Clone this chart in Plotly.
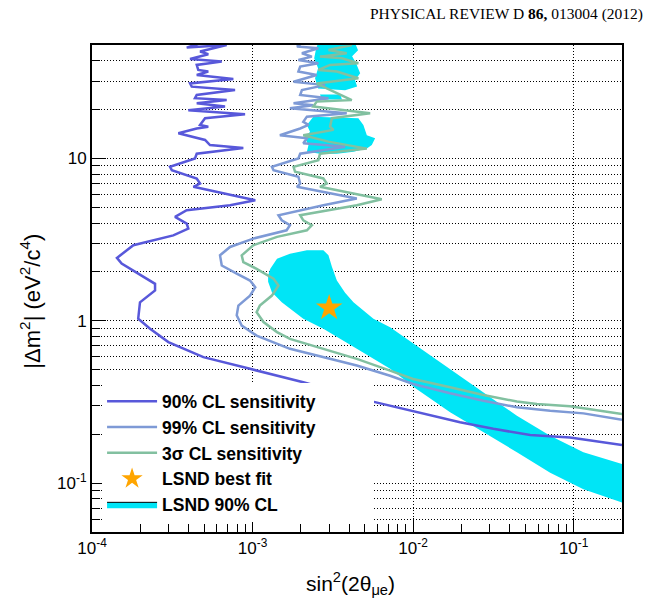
import plotly.graph_objects as go

# ---------------- data ----------------
# 90% CL sensitivity  (sin^2 2theta, dm^2)
s90_x = [4.94e-4, 3.89e-4, 6.90e-4, 4.71e-4, 5.30e-4, 4.08e-4, 6.43e-4, 4.49e-4, 4.59e-4, 5.30e-4,
         4.49e-4, 7.59e-4, 4.08e-4, 4.18e-4, 7.78e-4, 4.49e-4, 4.38e-4, 6.90e-4, 4.49e-4, 6.74e-4,
         3.98e-4, 8.98e-4, 5.06e-4, 4.71e-4, 5.30e-4, 4.49e-4, 3.45e-4, 5.06e-4, 5.43e-4, 8.76e-4,
         4.49e-4, 4.38e-4, 3.06e-4, 3.14e-4, 4.49e-4, 4.71e-4, 4.28e-4, 1.04e-3, 7.24e-4, 3.89e-4,
         3.29e-4, 3.89e-4, 3.98e-4, 3.21e-4, 1.81e-4, 1.43e-4, 1.53e-4, 2.04e-4, 2.47e-4, 2.47e-4,
         1.99e-4, 1.94e-4, 2.30e-4, 2.99e-4, 4.94e-4, 9.64e-4, 2.07e-3, 5.53e-3, 1.00e-2, 1.96e-2,
         3.16e-2, 5.36e-2, 9.50e-2, 0.200]
s90_y = [52.0, 48.2, 50.0, 45.6, 43.9, 41.0, 39.5, 37.7, 35.1, 34.3,
         32.7, 30.9, 29.0, 27.7, 26.4, 24.6, 23.5, 22.9, 21.9, 20.9,
         19.8, 18.7, 17.7, 16.1, 15.7, 15.3, 14.3, 13.0, 12.1, 11.6,
         10.7, 10.0, 8.89, 8.47, 7.53, 7.01, 6.69, 5.53, 5.15, 4.80,
         4.37, 3.97, 3.70, 3.36, 2.92, 2.44, 2.25, 1.90, 1.69, 1.54,
         1.30, 1.03, 0.893, 0.739, 0.597, 0.506, 0.418, 0.319, 0.277, 0.237,
         0.216, 0.198, 0.191, 0.172]

# 99% CL sensitivity
s99_x = [2.07e-3, 1.89e-3, 2.57e-3, 2.03e-3, 2.34e-3, 1.93e-3, 2.57e-3, 1.98e-3, 1.93e-3, 2.51e-3,
         1.80e-3, 2.83e-3, 2.03e-3, 1.98e-3, 2.97e-3, 1.80e-3, 2.39e-3, 1.71e-3, 3.86e-3, 2.18e-3,
         2.07e-3, 2.23e-3, 1.98e-3, 1.48e-3, 2.18e-3, 2.07e-3, 3.77e-3, 1.98e-3, 1.93e-3, 1.32e-3,
         1.35e-3, 1.93e-3, 1.98e-3, 1.89e-3, 4.46e-3, 2.76e-3, 1.45e-3, 1.52e-3, 1.71e-3, 1.63e-3,
         1.01e-3, 7.24e-4, 6.27e-4, 6.43e-4, 7.97e-4, 9.64e-4, 1.04e-3, 9.64e-4, 8.16e-4, 7.97e-4,
         8.56e-4, 1.06e-3, 1.71e-3, 2.76e-3, 4.46e-3, 7.19e-3, 1.00e-2, 1.70e-2, 2.74e-2, 4.43e-2,
         7.14e-2, 0.115, 0.200]
s99_y = [52.0, 48.9, 47.7, 44.5, 42.4, 40.4, 38.6, 36.8, 34.3, 32.7,
         29.7, 28.3, 26.4, 24.6, 23.5, 21.9, 21.3, 20.4, 19.0, 18.1,
         16.8, 16.1, 15.3, 13.9, 13.3, 12.4, 11.8, 10.7, 10.0, 8.89,
         8.47, 7.71, 7.01, 6.69, 5.66, 5.15, 4.47, 4.16, 3.88, 3.61,
         3.21, 2.85, 2.53, 2.19, 1.95, 1.77, 1.61, 1.43, 1.24, 1.08,
         0.935, 0.811, 0.672, 0.597, 0.530, 0.459, 0.408, 0.358, 0.322, 0.293,
         0.279, 0.269, 0.246]

# 3 sigma CL sensitivity
s3s_x = [2.97e-3, 4.15e-3, 2.97e-3, 3.86e-3, 2.63e-3, 3.60e-3, 4.56e-3, 3.04e-3, 2.57e-3, 3.35e-3,
         4.56e-3, 2.51e-3, 2.90e-3, 4.15e-3, 2.51e-3, 2.39e-3, 5.40e-3, 3.12e-3, 3.04e-3, 3.19e-3,
         2.07e-3, 2.97e-3, 5.15e-3, 2.63e-3, 2.57e-3, 1.80e-3, 1.84e-3, 2.76e-3, 2.90e-3, 2.63e-3,
         6.38e-3, 4.46e-3, 1.98e-3, 2.07e-3, 2.34e-3, 2.18e-3, 1.42e-3, 1.01e-3, 8.56e-4, 8.76e-4,
         1.06e-3, 1.35e-3, 1.45e-3, 1.32e-3, 1.11e-3, 1.06e-3, 1.17e-3, 1.42e-3, 1.71e-3, 2.76e-3,
         4.46e-3, 7.19e-3, 1.00e-2, 1.70e-2, 2.74e-2, 4.43e-2, 5.90e-2, 9.50e-2, 0.153, 0.200]
s3s_y = [52.0, 50.0, 46.6, 44.5, 42.4, 41.4, 38.6, 37.7, 35.1, 34.3,
         31.2, 29.0, 27.0, 22.9, 22.4, 20.9, 19.0, 17.7, 15.7, 15.0,
         13.9, 12.7, 11.5, 10.7, 9.76, 8.89, 8.28, 7.53, 7.01, 6.69,
         5.61, 5.15, 4.47, 4.16, 3.88, 3.61, 3.29, 2.92, 2.53, 2.30,
         2.09, 1.82, 1.65, 1.43, 1.24, 1.13, 0.982, 0.852, 0.774, 0.672,
         0.583, 0.493, 0.438, 0.390, 0.349, 0.318, 0.307, 0.298, 0.279, 0.267]

# LSND 90% CL allowed region (islands separated by None)
lsnd_x = [1.25e-3, 1.29e-3, 1.42e-3, 1.71e-3, 2.18e-3, 2.76e-3, 2.97e-3, 3.12e-3, 3.35e-3, 3.77e-3,
          4.25e-3, 5.66e-3, 7.19e-3, 1.05e-2, 1.70e-2, 2.74e-2, 4.43e-2, 7.14e-2, 0.115, 0.200,
          0.200, 0.115, 7.14e-2, 4.43e-2, 2.74e-2, 1.70e-2, 1.05e-2, 7.19e-3, 4.46e-3, 2.76e-3,
          2.07e-3, 1.71e-3, 1.52e-3, 1.32e-3, 1.25e-3, None,
          2.39e-3, 4.56e-3, 4.90e-3, 5.15e-3, 5.80e-3, 5.53e-3, 5.15e-3, 4.68e-3, 4.25e-3, 3.35e-3,
          2.63e-3, 2.18e-3, 2.23e-3, 2.12e-3, 2.28e-3, 2.18e-3, None,
          2.56e-3, 4.35e-3, 4.54e-3, 4.17e-3, 4.42e-3, 4.68e-3, 4.35e-3, 4.48e-3, 3.77e-3, 3.04e-3,
          2.56e-3, 2.45e-3, 2.56e-3, 2.42e-3, 2.49e-3, None,
          2.63e-3, 3.51e-3, 3.61e-3, 2.71e-3]
lsnd_y = [1.90, 2.09, 2.41, 2.59, 2.72, 2.72, 2.53, 2.15, 1.77, 1.49,
          1.30, 1.03, 0.914, 0.704, 0.506, 0.363, 0.260, 0.196, 0.155, 0.131,
          0.0760, 0.0918, 0.116, 0.155, 0.206, 0.273, 0.380, 0.506, 0.672, 0.893,
          1.03, 1.19, 1.30, 1.50, 1.74, None,
          18.1, 17.7, 16.1, 13.9, 13.3, 12.1, 11.5, 11.2, 11.0, 10.7,
          10.7, 11.0, 12.1, 13.3, 14.6, 16.1, None,
          51.3, 51.3, 46.4, 42.6, 38.5, 33.5, 30.3, 27.8, 26.3, 26.7,
          27.0, 31.2, 35.9, 41.4, 47.7, None,
          24.8, 24.8, 23.1, 23.1]

# LSND best fit
best_x = [3.0e-3]
best_y = [1.2]

# axis ticks
x_tickvals = [1e-4, 1e-3, 1e-2, 1e-1]
x_ticktext = ["10<sup>-4</sup>", "10<sup>-3</sup>", "10<sup>-2</sup>", "10<sup>-1</sup>"]
y_tickvals = [0.1, 1, 10]
y_ticktext = ["10<sup>-1</sup>", "1", "10"]
x_minor = [m * 10.0 ** e for e in (-4, -3, -2) for m in range(2, 10)] + [0.2]
y_minor = [m * 10.0 ** e for e in (-2, -1, 0, 1) for m in range(2, 10)]

# ---------------- styles ----------------
C90 = "#5858DA"
C99 = "#7E9AD6"
C3S = "#82C0A0"
CLSND = "#00E5F6"
CSTAR = "#FFA500"
FONT = "Liberation Sans, Arial, Helvetica, sans-serif"
PAD = "\u00a0" * 11   # blank room so the legend box is as wide as the original's

fig = go.Figure()

fig.add_trace(go.Scatter(x=lsnd_x, y=lsnd_y, mode="lines", fill="toself",
                         fillcolor=CLSND, line=dict(width=0, color=CLSND),
                         showlegend=False, hoverinfo="skip"))
fig.add_trace(go.Scatter(x=s90_x, y=s90_y, mode="lines", name="<b>90% CL sensitivity</b>" + PAD,
                         line=dict(color=C90, width=2.5)))
fig.add_trace(go.Scatter(x=s99_x, y=s99_y, mode="lines", name="<b>99% CL sensitivity</b>",
                         line=dict(color=C99, width=2.5)))
fig.add_trace(go.Scatter(x=s3s_x, y=s3s_y, mode="lines", name="<b>3σ CL sensitivity</b>",
                         line=dict(color=C3S, width=2.5)))
fig.add_trace(go.Scatter(x=best_x, y=best_y, mode="markers", name="<b>LSND best fit</b>",
                         marker=dict(symbol="star", size=20, color=CSTAR, line=dict(width=0))))
fig.add_trace(go.Scatter(x=[None], y=[None], mode="lines", fill="toself",
                         name="<b>LSND 90% CL</b>", fillcolor=CLSND,
                         line=dict(color="black", width=1)))

axis_common = dict(
    type="log", showline=True, linecolor="black", linewidth=2, mirror=True,
    ticks="inside", ticklen=14, tickwidth=1, tickcolor="black",
    showgrid=True, gridcolor="black", gridwidth=1, griddash="1px,2px",
    zeroline=False, tickfont=dict(family=FONT, size=17, color="black"),
    tickmode="array",
)

fig.update_xaxes(**axis_common, range=[-4, -0.69897],
                 tickvals=x_tickvals, ticktext=x_ticktext,
                 minor=dict(tickmode="array", tickvals=x_minor, ticks="inside", ticklen=8,
                            tickwidth=1, tickcolor="black", showgrid=False))
fig.update_yaxes(**axis_common, range=[-1.30103, 1.69897],
                 tickvals=y_tickvals, ticktext=y_ticktext,
                 minor=dict(tickmode="array", tickvals=y_minor, ticks="inside", ticklen=8,
                            tickwidth=1, tickcolor="black", showgrid=True,
                            gridcolor="black", gridwidth=1, griddash="1px,2px"))

fig.update_layout(
    width=665, height=604,
    margin=dict(l=92, r=43, t=45, b=72, autoexpand=False),
    paper_bgcolor="white", plot_bgcolor="white",
    showlegend=True,
    legend=dict(x=0.019, y=0.305, xanchor="left", yanchor="top",
                bgcolor="white", borderwidth=0, itemwidth=50,
                font=dict(family=FONT, size=17.5, color="black"),
                tracegroupgap=0),
    annotations=[
        dict(text="PHYSICAL REVIEW D <b>86,</b> 013004 (2012)",
             xref="paper", yref="paper", x=1.0434, y=1.0637,
             xanchor="right", yanchor="middle", showarrow=False,
             font=dict(family="Liberation Serif, Times New Roman, serif", size=15.5, color="black")),
        dict(text="sin<sup>2</sup>(2θ<sub>μe</sub>)",
             xref="paper", yref="paper", x=0.487, y=-0.105,
             xanchor="center", yanchor="middle", showarrow=False,
             font=dict(family=FONT, size=21, color="black")),
        dict(text="|Δm<sup>2</sup>| (eV<sup>2</sup>/c<sup>4</sup>)", textangle=-90,
             xref="paper", yref="paper", x=-0.117, y=0.475,
             xanchor="center", yanchor="middle", showarrow=False,
             font=dict(family=FONT, size=22, color="black")),
    ],
)

# the page body has a default 8px margin; remove it so the figure sits at the window origin
fig.write_html("out.html", config={"displayModeBar": False},
               post_script="document.body.style.margin='0';")
